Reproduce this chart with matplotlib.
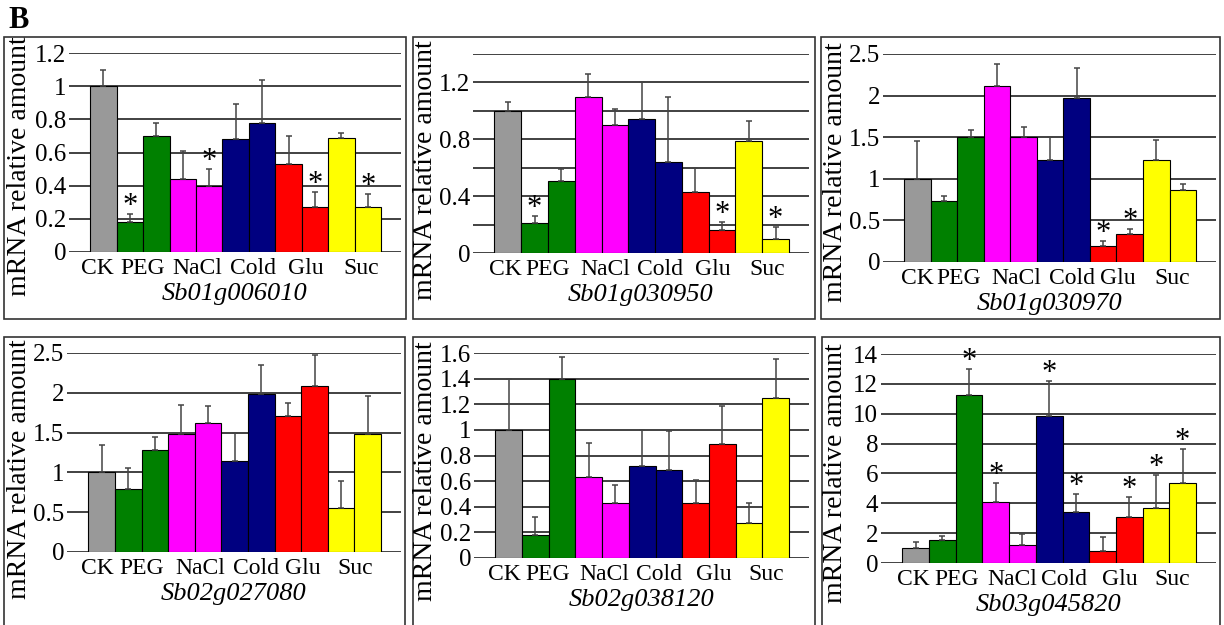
import numpy as np
import matplotlib
matplotlib.use('Agg')
import matplotlib.pyplot as plt
from matplotlib.patches import Rectangle

plt.rcParams['font.family'] = ['Liberation Serif', 'DejaVu Serif']

# DATA
groups = ['CK', 'PEG', 'NaCl', 'Cold', 'Glu', 'Suc']
bar_colors = ['#999999', '#008000', '#008000', '#ff00ff', '#ff00ff',
              '#000080', '#000080', '#ff0000', '#ff0000', '#ffff00', '#ffff00']

genes = ['Sb01g006010', 'Sb01g030950', 'Sb01g030970',
         'Sb02g027080', 'Sb02g038120', 'Sb03g045820']

mean_006010 = [1.0, 0.18, 0.70, 0.44, 0.40, 0.68, 0.78, 0.53, 0.27, 0.69, 0.27]
sd_006010 = [0.10, 0.05, 0.08, 0.17, 0.10, 0.21, 0.26, 0.17, 0.09, 0.03, 0.08]
star_006010 = [1, 4, 8, 10]

mean_030950 = [1.0, 0.21, 0.51, 1.10, 0.90, 0.94, 0.64, 0.43, 0.16, 0.79, 0.10]
sd_030950 = [0.06, 0.05, 0.08, 0.16, 0.11, 0.26, 0.46, 0.17, 0.06, 0.14, 0.08]
star_030950 = [1, 8, 10]

mean_030970 = [1.0, 0.73, 1.50, 2.11, 1.50, 1.23, 1.97, 0.19, 0.34, 1.23, 0.86]
sd_030970 = [0.46, 0.06, 0.09, 0.27, 0.12, 0.27, 0.36, 0.06, 0.06, 0.24, 0.08]
star_030970 = [7, 8]

mean_027080 = [1.0, 0.79, 1.28, 1.48, 1.62, 1.14, 1.98, 1.71, 2.09, 0.55, 1.48]
sd_027080 = [0.35, 0.26, 0.17, 0.37, 0.21, 0.36, 0.37, 0.16, 0.38, 0.34, 0.48]
star_027080 = []

mean_038120 = [1.0, 0.18, 1.40, 0.63, 0.43, 0.72, 0.69, 0.43, 0.89, 0.27, 1.25]
sd_038120 = [0.40, 0.14, 0.17, 0.27, 0.14, 0.28, 0.30, 0.18, 0.30, 0.16, 0.30]
star_038120 = []

mean_045820 = [1.03, 1.56, 11.23, 4.06, 1.20, 9.83, 3.41, 0.83, 3.10, 3.66, 5.33]
sd_045820 = [0.37, 0.27, 1.79, 1.27, 0.74, 2.34, 1.23, 0.91, 1.31, 2.25, 2.29]
star_045820 = [2, 3, 5, 6, 8, 9, 10]

# y axis settings per panel: (max, grid step, label step)
yaxes = [(1.2, 0.2, 0.2), (1.4, 0.2, 0.4), (2.5, 0.5, 0.5),
         (2.5, 0.5, 0.5), (1.6, 0.2, 0.2), (14, 2, 2)]

W, H = 1224, 625
fig = plt.figure(figsize=(W / 100, H / 100), dpi=100)

# layout (pixels): axes left, right, top, bottom
ax_px = [(69, 401, 53, 252), (473, 809, 54, 253), (883, 1216, 54, 262),
         (67, 401, 353, 552), (474, 809, 353, 558), (881, 1216, 354, 563)]
# panel frames: left, right, top, bottom
box_px = [(4, 406, 37, 319), (413, 815, 37, 319), (821, 1220, 37, 319),
          (4, 405, 337, 632), (413, 815, 337, 632), (822, 1220, 337, 632)]
ylab_px = [(20, 166), (425, 170), (835, 172), (20, 469), (426, 471), (835, 473)]
# where the group names sit under the bars (bar units), per panel
label_pos = [[-0.21, 1.5, 3.55, 5.65, 7.66, 9.75],
             [-0.09, 1.5, 3.64, 5.67, 7.66, 9.7],
             [0.0, 1.57, 3.73, 5.84, 7.55, 9.58],
             [-0.14, 1.51, 3.7, 5.81, 7.57, 9.54],
             [-0.15, 1.45, 3.58, 5.63, 7.67, 9.64],
             [-0.1, 1.55, 3.62, 5.55, 7.63, 9.6]]

means = [mean_006010, mean_030950, mean_030970, mean_027080, mean_038120, mean_045820]
sds = [sd_006010, sd_030950, sd_030970, sd_027080, sd_038120, sd_045820]
stars = [star_006010, star_030950, star_030970, star_027080, star_038120, star_045820]

x = np.arange(11)

for k in range(6):
    l, r, t, b = ax_px[k]
    ax = fig.add_axes([l / W, 1 - b / H, (r - l) / W, (b - t) / H])
    m = np.array(means[k])
    s = np.array(sds[k])
    ax.bar(x, m, width=1.0, color=bar_colors, edgecolor='black', linewidth=0.8, zorder=3)
    ax.errorbar(x, m, yerr=[np.zeros(11), s], fmt='none', ecolor='#444444',
                elinewidth=1.1, capsize=2.5, capthick=1.1, zorder=4)
    for i in stars[k]:
        ax.annotate('*', xy=(i, m[i] + s[i]), xytext=(0, 0), textcoords='offset points',
                    ha='center', va='baseline', fontsize=22, zorder=5)

    ymax, step, lstep = yaxes[k]
    ticks = np.arange(0, ymax + step / 2, step)
    labels = []
    for v in ticks:
        if abs(v / lstep - round(v / lstep)) < 1e-6:
            labels.append('{:g}'.format(round(v, 2)))
        else:
            labels.append('')
    ax.set_ylim(0, ymax)
    ax.set_yticks(ticks)
    ax.set_yticklabels(labels, fontsize=18)
    ax.yaxis.grid(True, color='#333333', linewidth=1.3, zorder=0)
    ax.set_axisbelow(True)
    ax.set_xlim(-1.3, 11.25)
    ax.set_xticks(label_pos[k])
    ax.set_xticklabels(groups, fontsize=17)
    ax.tick_params(length=0, pad=2)
    ax.tick_params(axis='x', pad=4)
    for sp in ax.spines.values():
        sp.set_visible(False)
    ax.set_xlabel(genes[k], fontsize=19, fontstyle='italic', labelpad=3)

    # y label and frame
    fig.text(ylab_px[k][0] / W, 1 - ylab_px[k][1] / H, 'mRNA relative amount',
             rotation=90, ha='center', va='center', fontsize=20)
    bl, br, bt, bb = box_px[k]
    fig.patches.append(Rectangle((bl / W, 1 - bb / H), (br - bl) / W, (bb - bt) / H,
                                 transform=fig.transFigure, fill=False,
                                 edgecolor='#333333', linewidth=1.2))

fig.text(8 / W, 1 - 28 / H, 'B', fontsize=22, fontweight='bold', ha='left', va='baseline')

plt.savefig('out.png', dpi=100)
